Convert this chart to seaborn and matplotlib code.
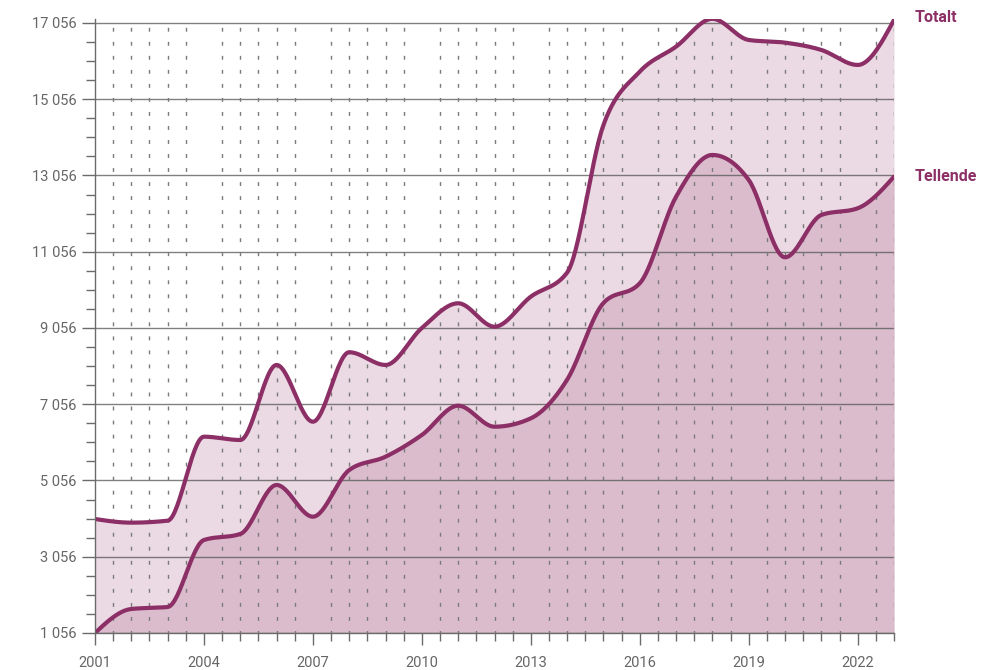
import numpy as np
import pandas as pd
import matplotlib.pyplot as plt
import seaborn as sns

years = list(range(2001, 2024))
totalt = [4046, 3950, 4002, 6205, 6118, 8086, 6598, 8420, 8086, 9056, 9704, 9090,
          9878, 10510, 14380, 15780, 16436, 17165, 16610, 16540, 16348, 15955, 17135]
tellende = [1056, 1686, 1738, 3495, 3653, 4938, 4107, 5331, 5680, 6250, 7018, 6467,
            6687, 7700, 9712, 10229, 12500, 13594, 12938, 10910, 12020, 12196, 13025]
series_names = ["Totalt", "Tellende"]
yticks = list(range(1056, 17057, 2000))
xticks = list(range(2001, 2023, 3))

line_col = "#8c2f66"
fill_light = "#ebd9e3"
fill_dark = "#dbbccc"
grey = "#6b6b6b"


def monotone(x, y, n=30):
    # monotone cubic (like d3 curveMonotoneX) just for drawing the smooth line
    x = np.asarray(x, float)
    y = np.asarray(y, float)
    h = np.diff(x)
    s = np.diff(y) / h
    m = np.zeros_like(y)
    for i in range(1, len(y) - 1):
        p = (s[i - 1] * h[i] + s[i] * h[i - 1]) / (h[i - 1] + h[i])
        m[i] = (np.sign(s[i - 1]) + np.sign(s[i])) * min(abs(s[i - 1]), abs(s[i]), 0.5 * abs(p))
    m[0] = (3 * s[0] - m[1]) / 2
    m[-1] = (3 * s[-1] - m[-2]) / 2
    xs, ys = [], []
    for i in range(len(h)):
        t = np.linspace(0, 1, n, endpoint=False)
        h00 = 2 * t**3 - 3 * t**2 + 1
        h10 = t**3 - 2 * t**2 + t
        h01 = -2 * t**3 + 3 * t**2
        h11 = t**3 - t**2
        xs.append(x[i] + t * h[i])
        ys.append(h00 * y[i] + h10 * h[i] * m[i] + h01 * y[i + 1] + h11 * h[i] * m[i + 1])
    xs.append([x[-1]])
    ys.append([y[-1]])
    return np.concatenate(xs), np.concatenate(ys)


sns.set_style("white")
plt.rcParams["font.family"] = ["Roboto", "DejaVu Sans"]
plt.rcParams["lines.scale_dashes"] = False

fig = plt.figure(figsize=(9.81, 6.70), dpi=100)
ax = fig.add_axes([95 / 981, 1 - 633 / 670, 799 / 981, 614 / 670])

curves = {}
for name, vals in zip(series_names, [totalt, tellende]):
    sx, sy = monotone(years, vals)
    curves[name] = pd.DataFrame({"year": sx, "value": sy})

ax.fill_between(curves["Totalt"]["year"], 1056, curves["Totalt"]["value"],
                color=fill_light, lw=0, zorder=1)
ax.fill_between(curves["Tellende"]["year"], 1056, curves["Tellende"]["value"],
                color=fill_dark, lw=0, zorder=1.1)

# horizontal grid
for v in yticks:
    ax.axhline(v, color="#555555", lw=1, alpha=0.75, zorder=2)

# dotted half-year lines, not on the labelled years
for hx in np.arange(2001.5, 2023.01, 0.5):
    if hx in xticks:
        continue
    ax.axvline(hx, color="#7a7a7a", lw=1, ls=(1, (2.8, 7.3)), zorder=2)

for name in series_names:
    sns.lineplot(data=curves[name], x="year", y="value", color=line_col,
                 lw=3, ax=ax, zorder=3, sort=False, estimator=None)

ax.annotate("Totalt", xy=(2023, totalt[-1]), xytext=(15, 2), textcoords="offset points",
            color=line_col, fontsize=11.5, fontweight="bold", va="center", ha="left",
            annotation_clip=False)
ax.annotate("Tellende", xy=(2023, tellende[-1]), xytext=(15, 0), textcoords="offset points",
            color=line_col, fontsize=11.5, fontweight="bold", va="center", ha="left",
            annotation_clip=False)

ax.set_xlim(2001, 2023)
ax.set_ylim(1056, 17160)
ax.set_yticks(yticks)
ax.set_yticklabels([f"{v:,}".replace(",", " ") for v in yticks])
ax.set_yticks(np.arange(1056, 17057, 500), minor=True)
ax.set_xticks(xticks)
ax.set_xticklabels([str(x) for x in xticks])
ax.set_xticks(np.arange(2001, 2023.01, 0.5), minor=True)
ax.set_xlabel("")
ax.set_ylabel("")

for side in ["top", "right"]:
    ax.spines[side].set_visible(False)
for side in ["left", "bottom"]:
    ax.spines[side].set_color(grey)
    ax.spines[side].set_linewidth(1)
    ax.spines[side].set_zorder(4)

ax.tick_params(axis="y", which="major", length=9.4, width=1, color=grey,
               labelcolor="#666666", labelsize=10.5, pad=4, left=True)
ax.tick_params(axis="y", which="minor", length=6.5, width=1, color=grey, left=True)
ax.tick_params(axis="x", which="major", length=8.6, width=1, color=grey,
               labelcolor="#666666", labelsize=10.5, pad=8, bottom=True)
ax.tick_params(axis="x", which="minor", length=5.8, width=1, color=grey, bottom=True)

fig.savefig("out.png", dpi=100)
